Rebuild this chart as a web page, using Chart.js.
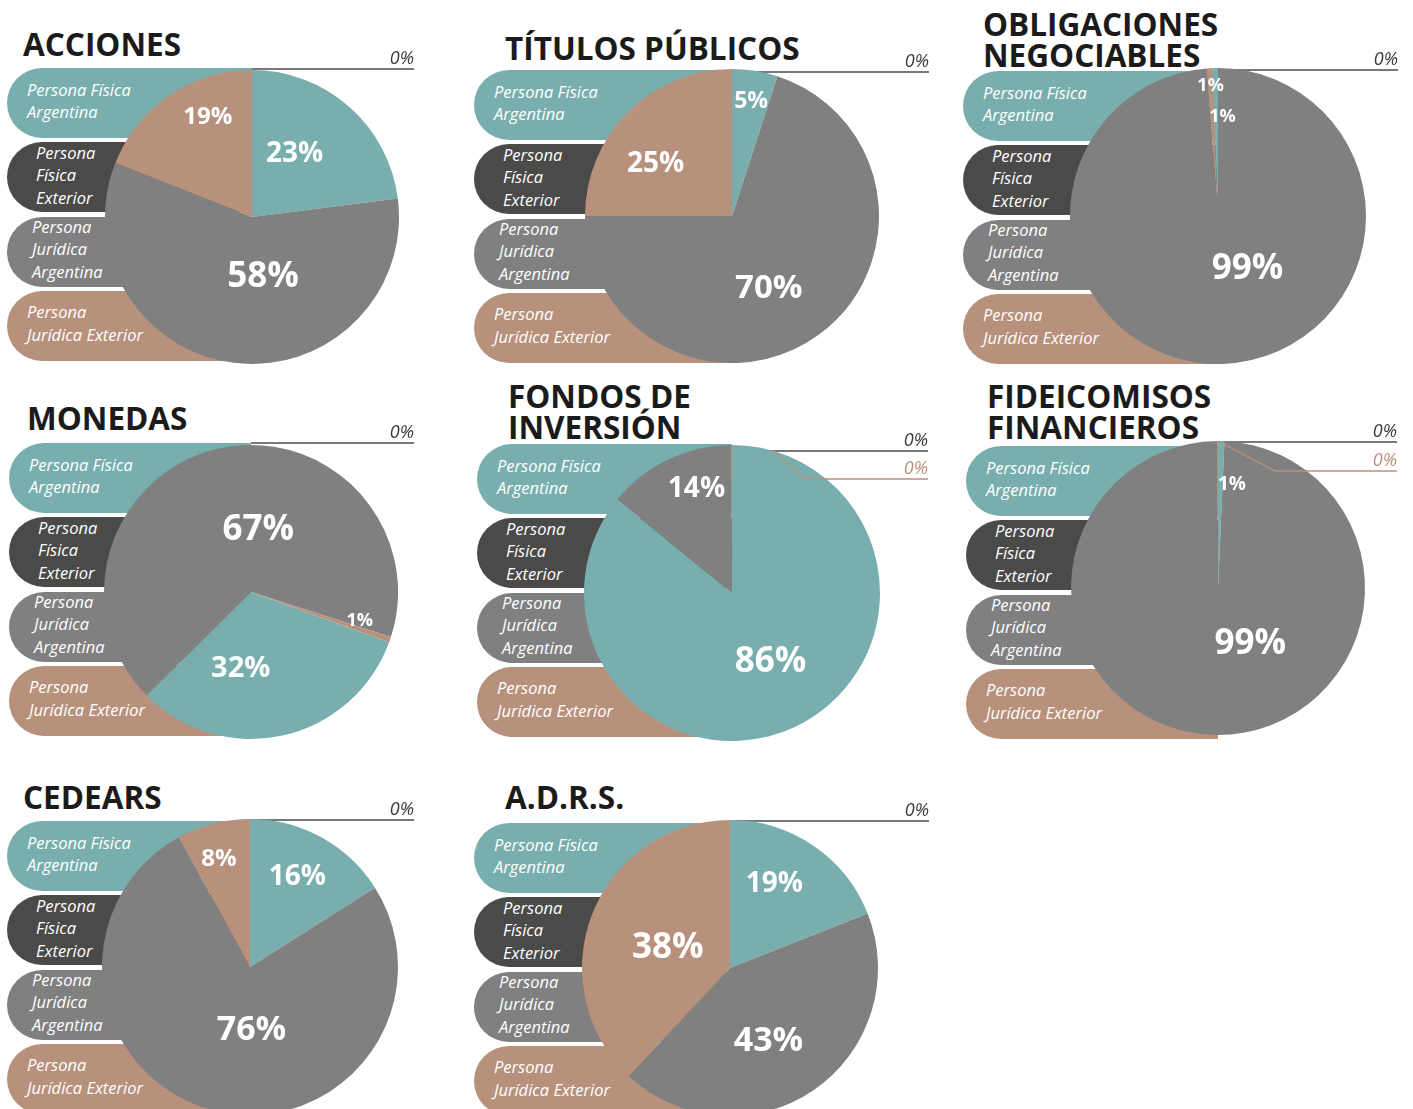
<!DOCTYPE html>
<html><head><meta charset="utf-8">
<script src="https://cdn.jsdelivr.net/npm/chart.js@4.4.1/dist/chart.umd.min.js"></script>
<style>
html,body{margin:0;padding:0;width:1413px;height:1109px;overflow:hidden;background:#fff;font-family:'Open Sans',sans-serif;}
.title{position:absolute;font-weight:700;font-size:31.5px;line-height:31px;color:#1b1b1b;white-space:pre;letter-spacing:0px}
.pill{position:absolute;height:70px;border-radius:35px 0 0 35px;color:#fff;font-style:italic;font-size:16.5px;line-height:22.5px;display:flex;flex-direction:column;justify-content:center;box-sizing:border-box;white-space:nowrap;padding-bottom:4px}
canvas{position:absolute}
</style></head><body>
<script>
// ---------- DATA ----------
const categories = ['Persona Física Argentina', 'Persona Física Exterior', 'Persona Jurídica Argentina', 'Persona Jurídica Exterior'];
const panelTitles = ['ACCIONES', 'TÍTULOS PÚBLICOS', 'OBLIGACIONES\nNEGOCIABLES', 'MONEDAS', 'FONDOS DE\nINVERSIÓN', 'FIDEICOMISOS\nFINANCIEROS', 'CEDEARS', 'A.D.R.S.'];
// values in %, order: [P. Física Argentina, P. Física Exterior, P. Jurídica Argentina, P. Jurídica Exterior]
const accionesValues     = [23, 0, 58, 19];
const titulosValues      = [5, 0, 70, 25];
const obligacionesValues = [0.6, 0, 98.8, 0.6];
const monedasValues      = [32, 0, 67.4, 0.6];
const fondosValues       = [85.9, 0, 14, 0.1];
const fideicomisosValues = [0.7, 0, 99.2, 0.1];
const cedearsValues      = [16, 0, 76, 8];
const adrsValues         = [19, 0, 43, 38];
const panelValues = [accionesValues, titulosValues, obligacionesValues, monedasValues, fondosValues, fideicomisosValues, cedearsValues, adrsValues];

// ---------- STYLE / LAYOUT ----------
const sliceColors = ['#78AFAE', '#4A4A49', '#808080', '#B8917C'];
const pillWordBreaks = [[2], [1, 2], [1, 2], [1]];
const pillIndent = [20, 29, 25, 20];
const pillStep = 74.3;
const layout = [
  {cx:252, cy:217, r:147, tx:23,  tb:55,  px:7,   py:68,  lineEnd:414,  darkDy:-1, rot:0,
   lab:[[0.29,-0.44,28], null, [0.075,0.39,35], [-0.30,-0.69,24]]},
  {cx:732, cy:216, r:147, tx:505, tb:59,  px:474, py:70,  lineEnd:929,  darkDy:3,  rot:0,
   lab:[[0.13,-0.79,23], null, [0.25,0.48,33], [-0.52,-0.37,28]]},
  {cx:1218, cy:216, r:148, tx:983, tb:35, px:963, py:71,  lineEnd:1398, darkDy:2,  rot:-2.16,
   lab:[[0.03,-0.68,18], null, [0.20,0.34,35], [-0.05,-0.89,18]]},
  {cx:251, cy:592, r:147, tx:27,  tb:429, px:9,   py:443, lineEnd:414,  darkDy:-2, rot:110,
   lab:[[-0.07,0.51,29], null, [0.05,-0.44,35], [0.74,0.19,18]]},
  {cx:732, cy:593, r:148, tx:508, tb:407, px:477, py:444, lineEnd:928,  darkDy:6,  rot:0,
   lab:[[0.26,0.45,35], null, [-0.24,-0.72,28], null], brownLeader:{angle:16, ex:73, ey:34}},
  {cx:1218, cy:588, r:147, tx:987, tb:407, px:966, py:446, lineEnd:1397, darkDy:1, rot:0,
   lab:[[0.095,-0.71,19], null, [0.22,0.36,35], null], brownLeader:{angle:0, ex:57, ey:30}},
  {cx:250, cy:967, r:148, tx:23,  tb:808, px:7,   py:821, lineEnd:414,  darkDy:1,  rot:0,
   lab:[[0.32,-0.62,28], null, [0.01,0.41,34], [-0.21,-0.74,24]]},
  {cx:730, cy:968, r:148, tx:505, tb:808, px:474, py:823, lineEnd:929,  darkDy:1,  rot:0,
   lab:[[0.30,-0.58,28], null, [0.26,0.48,34], [-0.42,-0.15,35]]}
];

const pctText = v => Math.round(v) + '%';

const labelPlugin = {
  id: 'pctLabels',
  beforeDatasetsDraw(chart, args, o) {
    const meta = chart.getDatasetMeta(0);
    const vals = chart.data.datasets[0].data;
    const ctx = chart.ctx;
    const a0 = meta.data[0];
    let zeroCount = 0;
    vals.forEach((v, i) => {
      if (v >= 0.5) return;
      if (zeroCount === 0) {
        const y = a0.y - a0.outerRadius + o.darkDy;
        ctx.save();
        ctx.strokeStyle = '#4d4d4d'; ctx.lineWidth = 1.5;
        ctx.beginPath(); ctx.moveTo(a0.x, y); ctx.lineTo(chart.width - 3, y); ctx.stroke();
        ctx.fillStyle = '#3a3a3a'; ctx.font = 'italic 18px "Open Sans"';
        ctx.textAlign = 'right'; ctx.textBaseline = 'alphabetic';
        ctx.fillText(pctText(v), chart.width - 3, y - 5);
        ctx.restore();
      }
      zeroCount++;
    });
  },
  afterDatasetsDraw(chart, args, o) {
    const meta = chart.getDatasetMeta(0);
    const vals = chart.data.datasets[0].data;
    const ctx = chart.ctx;
    let zeroCount = 0;
    vals.forEach((v, i) => {
      const arc = meta.data[i];
      if (v < 0.5) {
        if (zeroCount === 1 && o.brownLeader) {
          const bl = o.brownLeader;
          const ang = (bl.angle - 90) * Math.PI / 180;
          const sx = arc.x + Math.cos(ang) * arc.outerRadius;
          const sy = arc.y + Math.sin(ang) * arc.outerRadius;
          const top = arc.y - arc.outerRadius;
          const ex = arc.x + bl.ex, ey = top + bl.ey;
          ctx.save();
          ctx.strokeStyle = sliceColors[i]; ctx.lineWidth = 1.3;
          ctx.beginPath(); ctx.moveTo(sx, sy); ctx.lineTo(ex, ey); ctx.lineTo(chart.width - 3, ey); ctx.stroke();
          ctx.fillStyle = sliceColors[i]; ctx.font = 'italic 18px "Open Sans"';
          ctx.textAlign = 'right'; ctx.textBaseline = 'alphabetic';
          ctx.fillText(pctText(v), chart.width - 3, ey - 5);
          ctx.restore();
        }
        zeroCount++;
        return;
      }
      const L = o.lab[i];
      if (!L) return;
      ctx.save();
      ctx.fillStyle = '#ffffff';
      ctx.font = 'bold ' + L[2] + 'px "Open Sans"';
      ctx.textAlign = 'center'; ctx.textBaseline = 'alphabetic';
      ctx.fillText(pctText(v), arc.x + L[0] * arc.outerRadius, arc.y + L[1] * arc.outerRadius + 0.36 * L[2]);
      ctx.restore();
    });
  }
};

panelValues.forEach((vals, p) => {
  const L = layout[p];
  // title
  const t = document.createElement('div');
  t.className = 'title';
  t.textContent = panelTitles[p];
  t.style.left = L.tx + 'px';
  t.style.top = (L.tb - 27.5) + 'px';
  document.body.appendChild(t);
  // legend pills
  categories.forEach((c, i) => {
    const d = document.createElement('div');
    d.className = 'pill';
    d.style.left = L.px + 'px';
    d.style.top = (L.py + i * pillStep) + 'px';
    d.style.width = (L.cx - L.px) + 'px';
    d.style.background = sliceColors[i];
    d.style.paddingLeft = pillIndent[i] + 'px';
    const words = c.split(' ');
    const br = [0, ...pillWordBreaks[i], words.length];
    for (let k = 0; k < br.length - 1; k++) {
      const s = document.createElement('div');
      s.textContent = words.slice(br[k], br[k + 1]).join(' ');
      d.appendChild(s);
    }
    document.body.appendChild(d);
  });
  // chart canvas
  const left = L.cx - L.r - 5, top = L.cy - L.r - 50;
  const w = L.lineEnd + 3 - left, h = 2 * L.r + 55;
  const cv = document.createElement('canvas');
  cv.width = w; cv.height = h;
  cv.style.left = left + 'px'; cv.style.top = top + 'px';
  cv.style.width = w + 'px'; cv.style.height = h + 'px';
  document.body.appendChild(cv);
  new Chart(cv, {
    type: 'pie',
    data: {
      labels: categories,
      datasets: [{ data: vals, backgroundColor: sliceColors, borderWidth: 0, hoverOffset: 0, offset: 0 }]
    },
    options: {
      responsive: false,
      animation: false,
      rotation: L.rot,
      layout: { padding: { left: 5, top: 50, right: w - 5 - 2 * L.r, bottom: 5 } },
      events: [],
      plugins: {
        legend: { display: false },
        tooltip: { enabled: false },
        pctLabels: L
      }
    },
    plugins: [labelPlugin]
  });
});
</script>
</body></html>
